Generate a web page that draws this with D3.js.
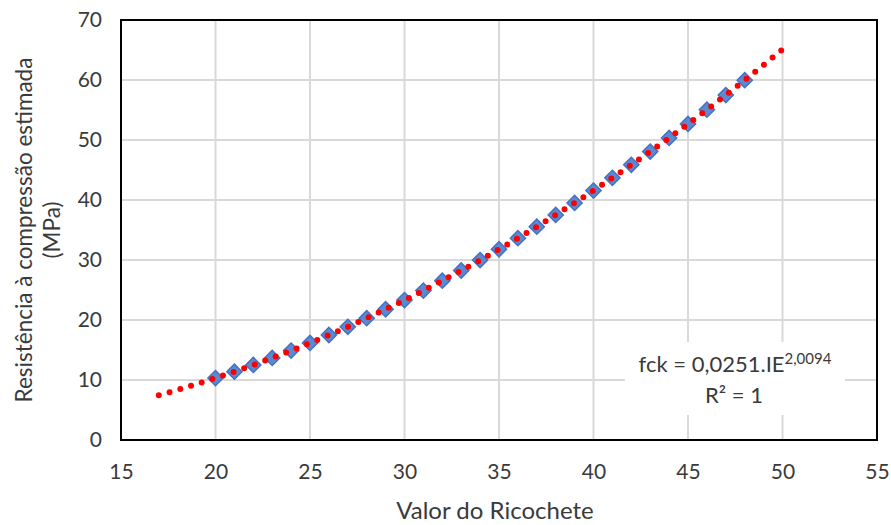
<!DOCTYPE html>
<html><head><meta charset="utf-8">
<script src="https://cdn.jsdelivr.net/npm/d3@7"></script>
<style>body{margin:0;background:#fff}</style>
</head><body>
<svg id="c" width="891" height="525"></svg>
<script>
const ricochete = [20,21,22,23,24,25,26,27,28,29,30,31,32,33,34,35,36,37,38,39,40,41,42,43,44,45,46,47,48];
const fck = [10.33,11.39,12.51,13.68,14.90,16.17,17.50,18.87,20.30,21.79,23.32,24.91,26.55,28.25,29.99,31.79,33.64,35.55,37.51,39.51,41.58,43.69,45.86,48.08,50.35,52.68,55.06,57.49,59.97];
const trendX = [17,18,19,20,22,24,26,28,30,32,34,36,38,40,42,44,46,48,49,50];
const trendY = [7.45,8.36,9.32,10.33,12.51,14.90,17.50,20.30,23.32,26.55,29.99,33.64,37.51,41.58,45.86,50.35,55.06,59.97,62.51,65.10];
const xTicks = [15,20,25,30,35,40,45,50,55];
const yTicks = [0,10,20,30,40,50,60,70];

const svg = d3.select("#c");
const font = "Lato, 'Open Sans', sans-serif";
const txt = "#3a3a3a";
const L=121, R=877, T=20, B=440;
const x = d3.scaleLinear().domain([15,55]).range([L,R]);
const y = d3.scaleLinear().domain([0,70]).range([B,T]);

// grid
svg.append("g").selectAll("line").data(xTicks).join("line")
  .attr("x1",d=>x(d)).attr("x2",d=>x(d)).attr("y1",T).attr("y2",B)
  .attr("stroke","#d9d9d9").attr("stroke-width",2);
svg.append("g").selectAll("line").data(yTicks).join("line")
  .attr("x1",L).attr("x2",R).attr("y1",d=>y(d)).attr("y2",d=>y(d))
  .attr("stroke","#d9d9d9").attr("stroke-width",2);

// axes labels
const xa = svg.append("g").attr("transform",`translate(0,${B})`)
  .call(d3.axisBottom(x).tickValues(xTicks).tickSize(0).tickPadding(24));
const ya = svg.append("g").attr("transform",`translate(${L},0)`)
  .call(d3.axisLeft(y).tickValues(yTicks).tickSize(0).tickPadding(19));
[xa,ya].forEach(a=>{a.select(".domain").remove();
  a.selectAll("text").attr("font-family",font).attr("font-size",21).attr("fill",txt);});

// frame
svg.append("rect").attr("x",L).attr("y",T).attr("width",R-L).attr("height",B-T)
  .attr("fill","none").attr("stroke","#000").attr("stroke-width",2);

// markers
const pts = ricochete.map((v,i)=>[v,fck[i]]);
svg.append("g").selectAll("path").data(pts).join("path")
  .attr("d",d3.symbol(d3.symbolSquare, 115))
  .attr("transform",d=>`translate(${x(d[0])},${y(d[1])}) rotate(45)`)
  .attr("fill","#5b8ad3").attr("stroke","#4472c4").attr("stroke-width",1.5);

// trendline
const tr = trendX.map((v,i)=>[v,trendY[i]]);
svg.append("path").datum(tr)
  .attr("d",d3.line().x(d=>x(d[0])).y(d=>y(d[1])).curve(d3.curveMonotoneX))
  .attr("fill","none").attr("stroke","#ff0000").attr("stroke-width",6)
  .attr("stroke-linecap","round").attr("stroke-dasharray","0 11.2");

// equation box
svg.append("rect").attr("x",625).attr("y",342).attr("width",220).attr("height",73).attr("fill","#fff");
const eq = svg.append("text").attr("x",735).attr("y",372).attr("text-anchor","middle")
  .attr("font-family",font).attr("font-size",22).attr("fill",txt);
eq.append("tspan").text("fck = 0,0251.IE");
eq.append("tspan").attr("dy",-8).attr("font-size",15).text("2,0094");
svg.append("text").attr("x",734).attr("y",403).attr("text-anchor","middle")
  .attr("font-family",font).attr("font-size",22).attr("fill",txt).text("R² = 1");

// titles
svg.append("text").attr("x",495).attr("y",519).attr("text-anchor","middle")
  .attr("font-family",font).attr("font-size",24).attr("fill",txt).text("Valor do Ricochete");
const yt = svg.append("text").attr("transform","translate(0,230) rotate(-90)")
  .attr("text-anchor","middle").attr("font-family",font).attr("font-size",22.5).attr("fill",txt);
yt.append("tspan").attr("x",0).attr("y",32).text("Resistência à compressão estimada");
yt.append("tspan").attr("x",0).attr("y",60).text("(MPa)");
</script>
</body></html>
